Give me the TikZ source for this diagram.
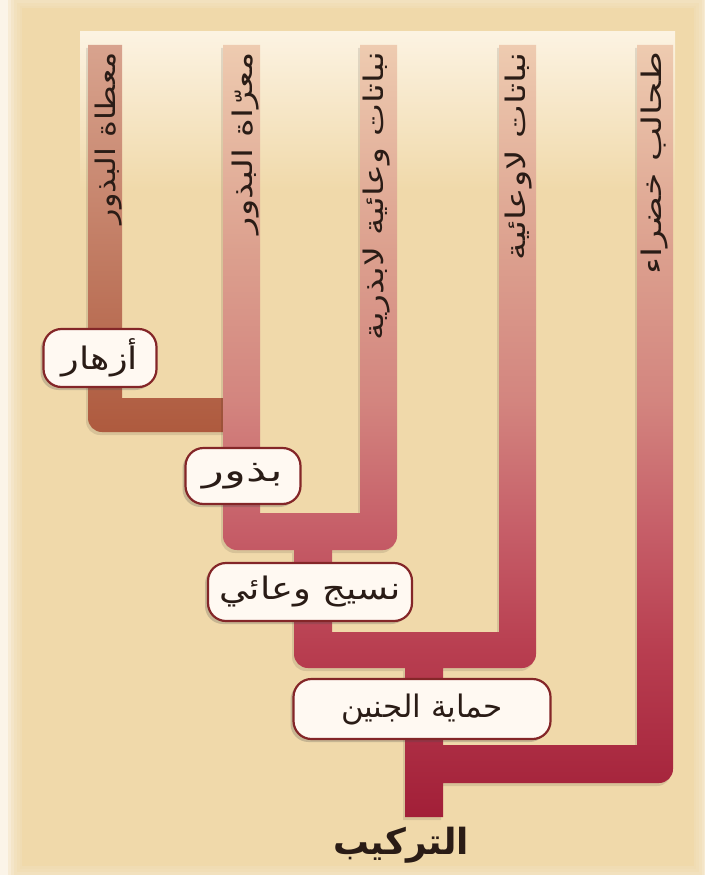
\documentclass[tikz,border=0pt]{standalone}
\usepackage{fontspec}
\usepackage{graphicx}
\setmainfont{DejaVu Sans}
\newfontfamily\arabicfont[Script=Arabic]{DejaVu Sans}
\TeXXeTstate=1
\usetikzlibrary{shadows}

\definecolor{bgbeige}{HTML}{F0D9AA}
\definecolor{bgedge}{HTML}{FBF4E8}
\definecolor{panellight}{HTML}{FCF3E2}
\definecolor{tc1}{HTML}{EECBB0}
\definecolor{tc2}{HTML}{DCA08E}
\definecolor{tc3}{HTML}{D3857F}
\definecolor{tc4}{HTML}{C65E68}
\definecolor{tc5}{HTML}{B83E50}
\definecolor{tc6}{HTML}{A21F38}
\definecolor{brtop}{HTML}{D8A38E}
\definecolor{brmid}{HTML}{BA6C52}
\definecolor{brbot}{HTML}{AE5A3E}
\definecolor{nodeborder}{HTML}{842628}
\definecolor{nodefill}{HTML}{FFF9F2}
\definecolor{inktext}{HTML}{2A1C16}

\pgfdeclareverticalshading{treeshade}{100bp}{color(0bp)=(tc6); color(25bp)=(tc6); color(35.8bp)=(tc5); color(43.6bp)=(tc4); color(52bp)=(tc3); color(61.7bp)=(tc2); color(75bp)=(tc1); color(100bp)=(tc1)}

\newcommand{\fitar}[2]{\resizebox{#1}{\height}{#2}}

\tikzset{
  barlabel/.style={rotate=90, anchor=east, inner sep=0pt, text=inktext,
    font=\arabicfont\fontsize{27}{27}\selectfont},
  trait/.style={draw=nodeborder, line width=2.2pt, fill=nodefill, rounded corners=18pt,
    inner sep=0pt, text=inktext, font=\arabicfont\fontsize{31}{31}\selectfont,
    drop shadow={shadow xshift=-3pt, shadow yshift=-3pt, opacity=0.25, fill=black!70}},
  rootlabel/.style={inner sep=0pt, text=inktext, font=\arabicfont\bfseries\fontsize{36}{36}\selectfont}
}

\begin{document}
\begin{tikzpicture}[x=1pt,y=-1pt]
\useasboundingbox (0,0) rectangle (704,875);
% background with soft edges
\fill[bgedge] (0,0) rectangle (704,875);
\foreach \d in {0,3,6,9,12}
  \fill[bgbeige,opacity=0.3] (8+\d,\d-6) rectangle (708-\d,881-\d);
\fill[bgbeige] (22,8) rectangle (694,866);
% light inner panel top
\shade[top color=panellight, bottom color=bgbeige] (80,32) rectangle (675,190);

% brown branch (gymnosperms)
\fill[black,opacity=0.10] (86,48) rectangle (120,423) [rounded corners=14pt] (86,401) rectangle (238,435);
\shade[top color=brtop, middle color=brmid, bottom color=brbot]
  (88,45) rectangle (122,420) [rounded corners=14pt] (88,398) rectangle (240,432);

% main tree shadow
\fill[black,opacity=0.10]
  (221,48) rectangle (258,535) (358,48) rectangle (395,535)
  (292,543) rectangle (330,653) (497,48) rectangle (534,653)
  (403,653) rectangle (441,820) (635,48) rectangle (671,768)
  [rounded corners=14pt] (221,516) rectangle (395,553)
  (292,635) rectangle (534,671) (403,748) rectangle (671,786);
% main tree
\shade[shading=treeshade]
  (223,45) rectangle (260,532) (360,45) rectangle (397,532)
  (294,540) rectangle (332,650) (499,45) rectangle (536,650)
  (405,650) rectangle (443,817) (637,45) rectangle (673,765)
  [rounded corners=14pt] (223,513) rectangle (397,550)
  (294,632) rectangle (536,668) (405,745) rectangle (673,783);

% taxon labels
\node[barlabel] (gymno) at (109,52) {\fitar{172pt}{\beginR معطاة البذور\endR}};
\node[barlabel] (angio) at (246,52) {\fitar{182pt}{\beginR معرّاة البذور\endR}};
\node[barlabel] (seedless) at (377,52) {\fitar{288pt}{\beginR نباتات وعائية لابذرية\endR}};
\node[barlabel] (nonvasc) at (519,52) {\fitar{208pt}{\beginR نباتات لاوعائية\endR}};
\node[barlabel] (algae) at (655,52) {\fitar{222pt}{\beginR طحالب خضراء\endR}};

% trait boxes
\node[trait, minimum width=113pt, minimum height=58pt] (flowers) at (100,358) {\fitar{76pt}{\beginR أزهار\endR}};
\node[trait, minimum width=115pt, minimum height=56pt] (seeds) at (243,476) {\fitar{80pt}{\beginR بذور\endR}};
\node[trait, minimum width=204pt, minimum height=58pt] (vascular) at (310,592) {\fitar{182pt}{\beginR نسيج وعائي\endR}};
\node[trait, minimum width=257pt, minimum height=60pt] (embryo) at (422,709) {\fitar{162pt}{\beginR حماية الجنين\endR}};

% root label
\node[rootlabel] (root) at (401,845) {\fitar{136pt}{\beginR التركيب\endR}};
\end{tikzpicture}
\end{document}
